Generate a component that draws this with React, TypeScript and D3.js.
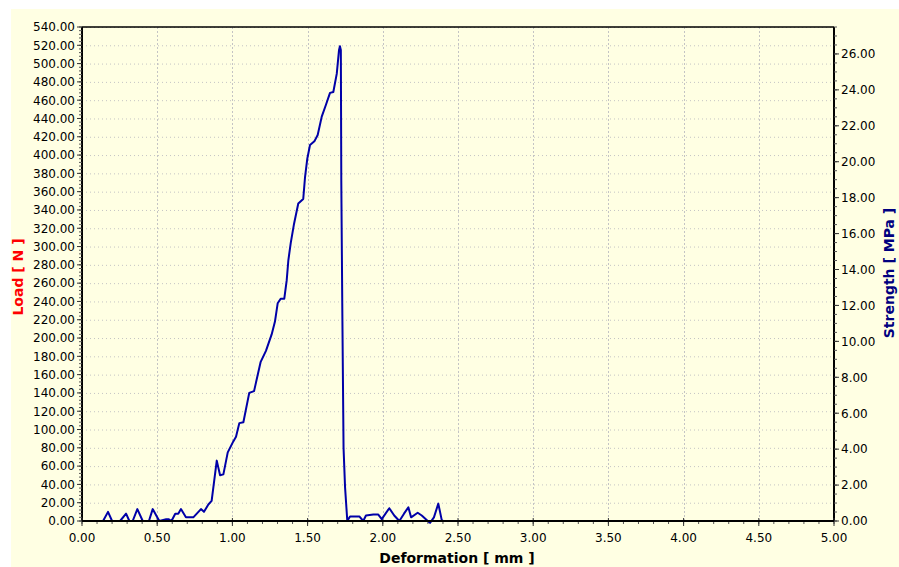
import React from "react";
import * as d3 from "d3";

// Deformation [mm]
const deformation = [
  0.08, 0.14, 0.173, 0.2, 0.253, 0.293, 0.315, 0.337, 0.368, 0.404, 0.445, 0.47, 0.514,
  0.56, 0.575, 0.595, 0.62, 0.64, 0.658, 0.691, 0.74, 0.791, 0.811, 0.84, 0.862, 0.896,
  0.918, 0.94, 0.969, 1.006, 1.024, 1.046, 1.073, 1.112, 1.144, 1.188, 1.223, 1.261,
  1.283, 1.301, 1.321, 1.345, 1.361, 1.372, 1.388, 1.41, 1.438, 1.471, 1.483, 1.498,
  1.516, 1.545, 1.567, 1.594, 1.622, 1.649, 1.671, 1.694, 1.709, 1.715, 1.721, 1.724,
  1.731, 1.739, 1.749, 1.764, 1.782, 1.844, 1.87, 1.888, 1.937, 1.97, 1.993, 2.043,
  2.076, 2.11, 2.141, 2.17, 2.188, 2.232, 2.259, 2.299, 2.314, 2.34, 2.369, 2.392, 2.402,
];
// Load [N]
const load = [
  0, 0, 10, 0, 0, 8, 0, 0, 13, 0, 0, 13, 0,
  2, 2, 0, 8, 8, 13, 4, 4, 13, 10, 18, 22, 66,
  50, 51, 75, 87, 92, 107, 108, 140, 142, 174, 186, 204,
  218, 238, 243, 243, 263, 285, 304, 325, 347, 352, 376, 396,
  411, 415, 422, 442, 455, 468, 469, 489, 515, 519, 515, 372,
  227, 80, 37, 0, 5, 5, 0, 6, 7, 7, 2, 14,
  6, 0, 8, 15, 4, 9, 6, 0, -2, 4, 19, 1, 0,
];

const xTickValues = [0, 0.5, 1, 1.5, 2, 2.5, 3, 3.5, 4, 4.5, 5];
const loadTickValues = d3.range(0, 541, 20);
const strengthTickValues = d3.range(0, 27, 2);
const xTitle = "Deformation [ mm ]";
const yTitle = "Load [ N ]";
const y2Title = "Strength [ MPa ]";

const W = 899;
const H = 567;
const L = 82;
const R = 834;
const T = 27;
const B = 521;

export default function App() {
  const x = d3.scaleLinear().domain([0, 5]).range([L, R]);
  const y = d3.scaleLinear().domain([0, 540]).range([B, T]);
  const y2 = d3.scaleLinear().domain([0, 27.5]).range([B, T]);

  const pts: [number, number][] = deformation.map((d, i) => [d, load[i]]);
  const line = d3
    .line<[number, number]>()
    .x((d) => x(d[0]))
    .y((d) => y(d[1]));

  const xMinor = d3.range(0, 5.0001, 0.1);
  const yMinor = d3.range(0, 540.001, 4);
  const y2Minor = d3.range(0, 27.5001, 0.5);

  const font = "'DejaVu Sans', Verdana, sans-serif";
  const grid = "#c4c4c4";

  return (
    <div style={{ position: "fixed", left: 0, top: 0, width: W, height: H, background: "#fff" }}>
      <svg width={W} height={H} style={{ display: "block" }}>
        <rect x={11} y={9} width={W - 11} height={H - 9} fill="#FFFFE3" />
        {/* grid */}
        {loadTickValues.slice(1).map((v) => (
          <line key={"gy" + v} x1={L} x2={R} y1={y(v) + 0.5} y2={y(v) + 0.5} stroke={grid} strokeWidth={1} strokeDasharray="1 3" />
        ))}
        {xTickValues.slice(1, -1).map((v) => (
          <line key={"gx" + v} x1={Math.round(x(v)) + 0.5} x2={Math.round(x(v)) + 0.5} y1={T} y2={B} stroke={grid} strokeWidth={1} strokeDasharray="2 2" />
        ))}
        {/* frame */}
        <line x1={L} x2={R} y1={T} y2={T} stroke="#000" strokeWidth={1.5} />
        <line x1={L} x2={L} y1={T} y2={B} stroke="#000" strokeWidth={2} />
        <line x1={R} x2={R} y1={T} y2={B} stroke="#000" strokeWidth={2} />
        {/* left ticks */}
        {yMinor.map((v) => (
          <line key={"ym" + v} x1={L - 3} x2={L} y1={y(v)} y2={y(v)} stroke="#555" strokeWidth={1} />
        ))}
        {loadTickValues.map((v) => (
          <line key={"yt" + v} x1={L - 5} x2={L} y1={y(v)} y2={y(v)} stroke="#333" strokeWidth={1} />
        ))}
        {loadTickValues.map((v) => (
          <text key={"yl" + v} x={75} y={y(v)} dy="0.36em" textAnchor="end" fontFamily={font} fontSize={12} fill="#000">
            {v.toFixed(2)}
          </text>
        ))}
        {/* right ticks */}
        {y2Minor.map((v) => (
          <line key={"y2m" + v} x1={R} x2={R + 3} y1={y2(v)} y2={y2(v)} stroke="#555" strokeWidth={1} />
        ))}
        {strengthTickValues.map((v) => (
          <line key={"y2t" + v} x1={R} x2={R + 5} y1={y2(v)} y2={y2(v)} stroke="#333" strokeWidth={1} />
        ))}
        {strengthTickValues.map((v) => (
          <text key={"y2l" + v} x={841} y={y2(v)} dy="0.36em" textAnchor="start" fontFamily={font} fontSize={12} fill="#000">
            {v.toFixed(2)}
          </text>
        ))}
        {/* bottom ticks */}
        {xMinor.map((v) => (
          <line key={"xm" + v} x1={x(v)} x2={x(v)} y1={B} y2={B + 3} stroke="#555" strokeWidth={1} />
        ))}
        {xTickValues.map((v) => (
          <line key={"xt" + v} x1={x(v)} x2={x(v)} y1={B - 3} y2={B + 5} stroke="#333" strokeWidth={1} />
        ))}
        {xTickValues.map((v) => (
          <text key={"xl" + v} x={x(v)} y={538} dy="0.36em" textAnchor="middle" fontFamily={font} fontSize={12} fill="#000">
            {v.toFixed(2)}
          </text>
        ))}
        {/* data */}
        <path d={line(pts) || ""} fill="none" stroke="#0000A8" strokeWidth={2} strokeLinejoin="round" />
        <line x1={L} x2={R} y1={B} y2={B} stroke="#000" strokeWidth={2} />
        {/* titles */}
        <text x={457} y={558} dy="0.36em" textAnchor="middle" fontFamily={font} fontWeight="bold" fontSize={14} fill="#000">
          {xTitle}
        </text>
        <text transform="translate(18,277) rotate(-90)" dy="0.36em" textAnchor="middle" fontFamily={font} fontWeight="bold" fontSize={14} fill="#FF0000">
          {yTitle}
        </text>
        <text transform="translate(889,273) rotate(-90)" dy="0.36em" textAnchor="middle" fontFamily={font} fontWeight="bold" fontSize={14} fill="#000080">
          {y2Title}
        </text>
      </svg>
    </div>
  );
}
